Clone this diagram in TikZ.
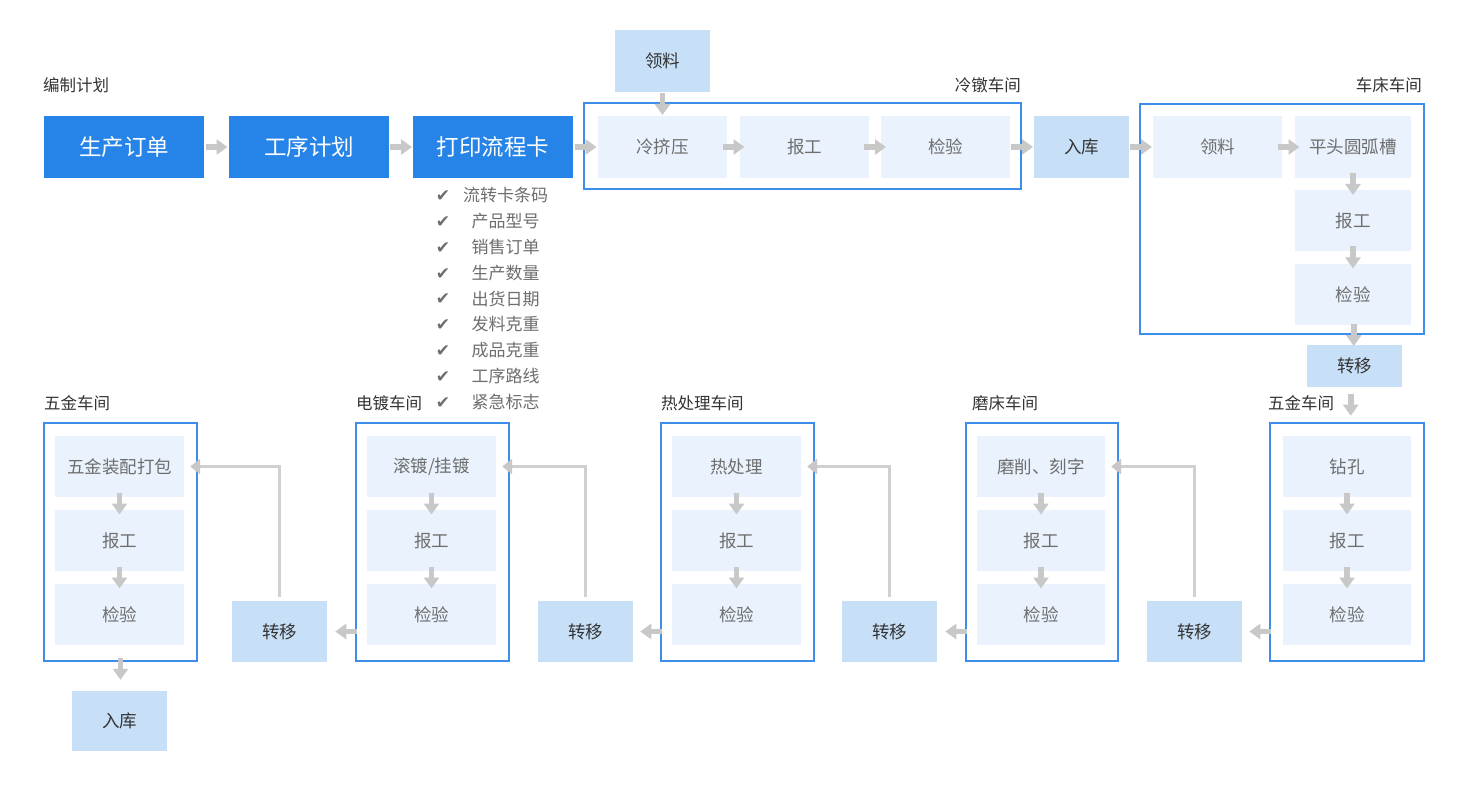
\documentclass[tikz,border=0pt]{standalone}
\usepackage{fontspec}
\setmainfont{Noto Sans CJK SC}
\newfontfamily\dejavu{DejaVu Sans}
\usetikzlibrary{arrows.meta,calc}
\definecolor{dblue}{HTML}{2684E8}
\definecolor{cblue}{HTML}{3D8EEB}
\definecolor{lblue}{HTML}{C7E0F8}
\definecolor{xblue}{HTML}{EAF3FD}
\definecolor{agray}{HTML}{C8C8C8}
\definecolor{lgray}{HTML}{D0D0D0}
\definecolor{tgray}{HTML}{6E6E6E}
\definecolor{tdark}{HTML}{333333}
\newcommand\harrow[2]{\draw[fat] ($(#1.east)!0.5!(#2.west)+(-11,0)$) -- ++(22,0);}
\newcommand\varrow[2]{\draw[fat] ($(#1.south)!0.5!(#2.north)+(0,-11)$) -- ++(0,22);}
\begin{document}
\begin{tikzpicture}[x=1pt,y=-1pt,
  mainbox/.style={fill=dblue, text=white, minimum width=160pt, minimum height=62pt, inner sep=0pt, font=\fontsize{22.5}{26}\selectfont},
  stepbox/.style={fill=xblue, text=tgray, minimum height=61pt, inner sep=0pt, font=\fontsize{17.5}{20}\selectfont},
  hubbox/.style={fill=lblue, text=tdark, minimum width=95pt, inner sep=0pt, font=\fontsize{17.5}{20}\selectfont},
  shop/.style={draw=cblue, line width=1.5pt, fill=white, inner sep=0pt},
  shoplabel/.style={text=tdark, inner sep=0pt, font=\fontsize{16.5}{19}\selectfont},
  fat/.style={draw=agray, line width=5.5pt, -{Triangle[length=11pt,width=15pt]}},
  conn/.style={draw=lgray, line width=2.5pt, -{Triangle[length=10pt,width=15pt,color=agray]}},
  chk/.style={text=tgray, inner sep=0pt, font=\dejavu\fontsize{17}{19}\selectfont},
  item/.style={text=tgray, inner sep=0pt, font=\fontsize{17}{20}\selectfont}]
\useasboundingbox[fill=white] (0,0) rectangle (1466,786);

% ---------- top row ----------
\node[shoplabel, anchor=west] (lplan) at (43,85) {编制计划};
\node[mainbox] (o1) at (124,147) {生产订单};
\node[mainbox] (o2) at (309,147) {工序计划};
\node[mainbox] (o3) at (493,147) {打印流程卡};

\node[shop, minimum width=437pt, minimum height=86pt] (cold) at (802.5,146) {};
\node[shoplabel, anchor=east] (lcold) at (1021,85) {冷镦车间};
\node[hubbox, minimum height=62pt] (feed1) at (662.5,61) {领料};
\node[stepbox, minimum width=129pt, minimum height=62pt] (c1) at (662.5,147) {冷挤压};
\node[stepbox, minimum width=129pt, minimum height=62pt] (c2) at (804.5,147) {报工};
\node[stepbox, minimum width=129pt, minimum height=62pt] (c3) at (945.5,147) {检验};

\node[hubbox, minimum height=62pt] (store1) at (1081.5,147) {入库};

\node[shop, minimum width=284pt, minimum height=230pt] (lathe) at (1282,219) {};
\node[shoplabel, anchor=east] (llathe) at (1422,85) {车床车间};
\node[stepbox, minimum width=129pt, minimum height=62pt] (l1) at (1217.5,147) {领料};
\node[stepbox, minimum width=116pt, minimum height=62pt] (l2) at (1353,147) {平头圆弧槽};
\node[stepbox, minimum width=116pt] (l3) at (1353,220.5) {报工};
\node[stepbox, minimum width=116pt] (l4) at (1353,294.5) {检验};
\node[hubbox, minimum height=42pt] (move1) at (1354.5,366) {转移};

% ---------- checklist ----------
\foreach \t [count=\i from 0] in {流转卡条码,产品型号,销售订单,生产数量,出货日期,发料克重,成品克重,工序路线,紧急标志}{
  \node[chk] (ck\i) at (443,196+25.9*\i) {✔};
  \node[item] (it\i) at (505.5,195+25.9*\i) {\t};
}

% ---------- bottom row ----------
\node[shop, minimum width=154pt, minimum height=238pt] (hw2) at (1347,542) {};
\node[shoplabel, anchor=west] (lhw2) at (1268,403) {五金车间};
\node[stepbox, minimum width=128pt] (d1) at (1347,466.5) {钻孔};
\node[stepbox, minimum width=128pt] (d2) at (1347,540.5) {报工};
\node[stepbox, minimum width=128pt] (d3) at (1347,614.5) {检验};
\node[hubbox, minimum height=61pt] (move2) at (1194.5,631.5) {转移};

\node[shop, minimum width=152pt, minimum height=238pt] (grind) at (1042,542) {};
\node[shoplabel, anchor=west] (lgrind) at (972,403) {磨床车间};
\node[stepbox, minimum width=128pt] (m1) at (1041,466.5) {磨削、刻字};
\node[stepbox, minimum width=128pt] (m2) at (1041,540.5) {报工};
\node[stepbox, minimum width=128pt] (m3) at (1041,614.5) {检验};
\node[hubbox, minimum height=61pt] (move3) at (889.5,631.5) {转移};

\node[shop, minimum width=153pt, minimum height=238pt] (heat) at (737.5,542) {};
\node[shoplabel, anchor=west] (lheat) at (661,403) {热处理车间};
\node[stepbox, minimum width=129pt] (h1) at (736.5,466.5) {热处理};
\node[stepbox, minimum width=129pt] (h2) at (736.5,540.5) {报工};
\node[stepbox, minimum width=129pt] (h3) at (736.5,614.5) {检验};
\node[hubbox, minimum height=61pt] (move4) at (585.5,631.5) {转移};

\node[shop, minimum width=153pt, minimum height=238pt] (plate) at (432.5,542) {};
\node[shoplabel, anchor=west] (lplate) at (356,403) {电镀车间};
\node[stepbox, minimum width=129pt] (p1) at (431.5,466.5) {滚镀/挂镀};
\node[stepbox, minimum width=129pt] (p2) at (431.5,540.5) {报工};
\node[stepbox, minimum width=129pt] (p3) at (431.5,614.5) {检验};
\node[hubbox, minimum height=61pt] (move5) at (279.5,631.5) {转移};

\node[shop, minimum width=153pt, minimum height=238pt] (hw1) at (120.5,542) {};
\node[shoplabel, anchor=west] (lhw1) at (44,403) {五金车间};
\node[stepbox, minimum width=129pt] (f1) at (119.5,466.5) {五金装配打包};
\node[stepbox, minimum width=129pt] (f2) at (119.5,540.5) {报工};
\node[stepbox, minimum width=129pt] (f3) at (119.5,614.5) {检验};
\node[hubbox, minimum height=60pt] (store2) at (119.5,721) {入库};

% ---------- arrows ----------
\harrow{o1}{o2}
\harrow{o2}{o3}
\harrow{o3}{c1}
\varrow{feed1}{c1}
\harrow{c1}{c2}
\harrow{c2}{c3}
\harrow{c3}{store1}
\harrow{store1}{l1}
\harrow{l1}{l2}
\varrow{l2}{l3}
\varrow{l3}{l4}
\varrow{l4}{move1}
\varrow{move1}{hw2}

\varrow{d1}{d2}
\varrow{d2}{d3}
\varrow{m1}{m2}
\varrow{m2}{m3}
\varrow{h1}{h2}
\varrow{h2}{h3}
\varrow{p1}{p2}
\varrow{p2}{p3}
\varrow{f1}{f2}
\varrow{f2}{f3}

\draw[fat] (hw2.west |- move2.center) ++(2,0) -- ++(-22,0);
\draw[fat] (grind.west |- move3.center) ++(2,0) -- ++(-22,0);
\draw[fat] (heat.west |- move4.center) ++(2,0) -- ++(-22,0);
\draw[fat] (plate.west |- move5.center) ++(2,0) -- ++(-22,0);
\draw[fat] (hw1.south) ++(0,-4) -- ++(0,22);

\draw[conn] (move2.north) ++(0,-4) -- (move2.north |- m1.east) -- ($(m1.east)+(6,0)$);
\draw[conn] (move3.north) ++(0,-4) -- (move3.north |- h1.east) -- ($(h1.east)+(6,0)$);
\draw[conn] (move4.north) ++(0,-4) -- (move4.north |- p1.east) -- ($(p1.east)+(6,0)$);
\draw[conn] (move5.north) ++(0,-4) -- (move5.north |- f1.east) -- ($(f1.east)+(6,0)$);
\end{tikzpicture}
\end{document}
